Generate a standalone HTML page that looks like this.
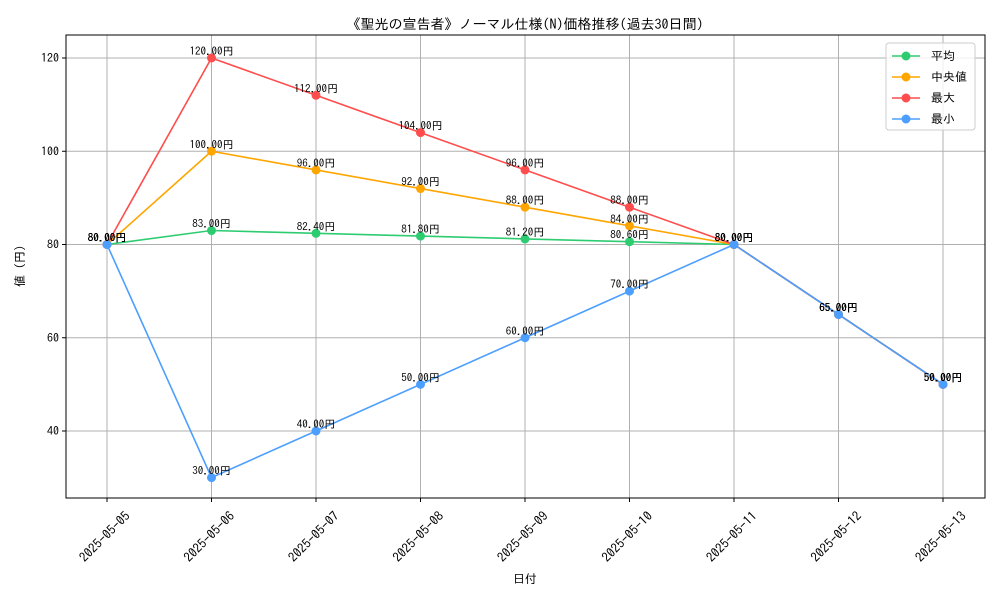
<!DOCTYPE html>
<html><head><meta charset="utf-8"><style>
body{margin:0;background:#fff;font-family:"IPAGothic","Noto Sans CJK JP",sans-serif;}
text{font-family:"IPAGothic","Noto Sans CJK JP",sans-serif;}
</style></head><body>
<svg id="c" width="1000" height="600" xmlns="http://www.w3.org/2000/svg"></svg>
<script>
const categories=["2025-05-05","2025-05-06","2025-05-07","2025-05-08","2025-05-09","2025-05-10","2025-05-11","2025-05-12","2025-05-13"];
const avgValues=[80,83,82.4,81.8,81.2,80.6,80,65,50];
const medianValues=[80,100,96,92,88,84,80,65,50];
const maxValues=[80,120,112,104,96,88,80,65,50];
const minValues=[80,30,40,50,60,70,80,65,50];
const yTicks=[40,60,80,100,120];
const seriesNames=["平均","中央値","最大","最小"];
const seriesColors=["#2ecc71","#ffa500","#ff4d4d","#4d9fff"];

const svg=document.getElementById('c');
const NS="http://www.w3.org/2000/svg";
const L=66,R=985,T=35,B=498;
const x=i=>107+i*(943-107)/(categories.length-1);
const y=v=>58+(120-v)*(431-58)/80;
function el(tag,attrs,parent,name,inter){const e=document.createElementNS(NS,tag);for(const k in attrs)e.setAttribute(k,attrs[k]);


(parent||svg).appendChild(e);return e;}
function txt(s,attrs,name){const e=el('text',attrs,svg,name,false);e.textContent=s;return e;}

// grid
categories.forEach((c,i)=>{el('line',{x1:x(i),x2:x(i),y1:T,y2:B,stroke:'#b0b0b0','stroke-width':1},svg,'x-grid-line',false);});
yTicks.forEach(v=>{el('line',{x1:L,x2:R,y1:y(v),y2:y(v),stroke:'#b0b0b0','stroke-width':1},svg,'y-grid-line',false);});
el('rect',{x:L,y:T,width:R-L,height:B-T,fill:'none',stroke:'#000','stroke-width':1},svg,'plot-frame',false);
// ticks
yTicks.forEach(v=>{el('line',{x1:L-4,x2:L,y1:y(v),y2:y(v),stroke:'#000'},svg,'y-tick',false);
txt(String(v),{x:L-7,y:y(v)+4,'text-anchor':'end','font-size':12},'y-tick-label');});
categories.forEach((c,i)=>{el('line',{x1:x(i),x2:x(i),y1:B,y2:B+4,stroke:'#000'},svg,'x-tick',false);
const cx=x(i)-2, cy=537;
txt(c,{x:cx,y:cy+4,'text-anchor':'middle','font-size':13,transform:`rotate(-45 ${cx} ${cy})`},'x-tick-label');});
txt("《聖光の宣告者》ノーマル仕様(N)価格推移(過去30日間)",{x:525,y:29,'text-anchor':'middle','font-size':14},'chart-title');
txt("日付",{x:525,y:583,'text-anchor':'middle','font-size':12},'x-axis-title');
txt("値 (円)",{x:24,y:266,'text-anchor':'middle','font-size':12,transform:'rotate(-90 24 266)'},'y-axis-title');

const all=[avgValues,medianValues,maxValues,minValues];
all.forEach((vals,s)=>{
 const g=el('g',{},svg,'series-'+['avg','median','max','min'][s],false);
 el('polyline',{points:vals.map((v,i)=>x(i)+','+y(v)).join(' '),fill:'none',stroke:seriesColors[s],'stroke-width':1.6},g,'series-line',false);
 vals.forEach((v,i)=>{el('circle',{cx:x(i),cy:y(v),r:4.5,fill:seriesColors[s]},g,'data-point',false);});
});
all.forEach((vals,s)=>{vals.forEach((v,i)=>{txt(v.toFixed(2)+"円",{x:x(i),y:y(v)-3,'text-anchor':'middle','font-size':11},'value-label');});});

// legend
const lg=el('g',{},svg,'legend',false);
el('rect',{x:886,y:43,width:89,height:87,fill:'#fff','fill-opacity':0.8,stroke:'#ccc',rx:3},lg,'legend-box',false);
seriesNames.forEach((n,s)=>{const yy=56+s*21;
 el('line',{x1:892,x2:920,y1:yy,y2:yy,stroke:seriesColors[s],'stroke-width':1.6},lg,'legend-line',false);
 el('circle',{cx:906,cy:yy,r:4.5,fill:seriesColors[s]},lg,'legend-marker',false);
 const t=el('text',{x:931,y:yy+4,'font-size':12},lg,'legend-entry',false);t.textContent=n;});
</script>
</body></html>
